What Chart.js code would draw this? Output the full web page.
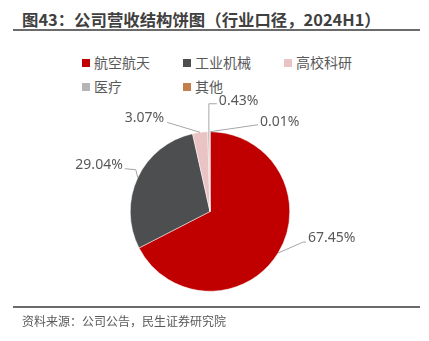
<!DOCTYPE html>
<html>
<head>
<meta charset="utf-8">
<script src="https://cdn.jsdelivr.net/npm/chart.js@4"></script>
<style>
  body { margin: 0; background: #fff; font-family: "Noto Sans CJK SC", "Noto Sans", sans-serif; }
  #wrap { position: relative; width: 429px; height: 341px; overflow: hidden; }
  #title { position: absolute; left: 22px; top: 7px; font-size: 16.4px; font-weight: bold; color: #404040; white-space: nowrap; }
  .rule { position: absolute; left: 13px; width: 407px; height: 2px; background: #6b6b6b; }
  #legend { position: absolute; left: 82px; top: 52px; width: 320px; font-size: 14px; color: #595959; }
  .item { position: absolute; white-space: nowrap; line-height: 20px; }
  .item i { display: inline-block; width: 8px; height: 8px; margin-right: 4px; vertical-align: 1px; }
  #source { position: absolute; left: 22px; top: 312px; font-size: 12px; color: #595959; white-space: nowrap; }
  canvas { position: absolute; left: 0; top: 0; }
</style>
</head>
<body>
<div id="wrap">
  <div id="title">图43：公司营收结构饼图（行业口径，2024H1）</div>
  <div class="rule" style="top:29px"></div>
  <div id="legend"></div>
  <canvas id="pieChart" width="429" height="341"></canvas>
  <div class="rule" style="top:306px"></div>
  <div id="source">资料来源：公司公告，民生证券研究院</div>
</div>
<script>
// segments and shares (%)
let sectors = ['航空航天', '工业机械', '高校科研', '医疗', '其他'];
let shares = [67.45, 29.04, 3.07, 0.43, 0.01];
let colors = ['#C00000', '#4D4E50', '#EAC4C4', '#B5B5B5', '#C27E4C'];

// legend grid (3 per row)
let legend = document.getElementById('legend');
sectors.forEach((name, i) => {
	let el = document.createElement('div');
	el.className = 'item';
	el.style.left = (i % 3) * 101 + 'px';
	el.style.top = Math.floor(i / 3) * 24 + 'px';
	el.innerHTML = '<i style="background:' + colors[i] + '"></i>' + name;
	legend.appendChild(el);
});

// leader line points (relative to slice edge) + label anchor
let labelLayout = [
	{ line: [[0, 0], [25, -11], [28, -11]], text: [30, -15], align: 'left' },
	{ line: [[0, 0], [-2, -8], [-13, -9]], text: [-15, -13], align: 'right' },
	{ line: [[0, 0], [-33, -10]], text: [-36, -14], align: 'right' },
	{ line: [[0, 0], [0, -28], [8, -28]], text: [10, -31], align: 'left' },
	{ line: [[0, 0], [48, -7]], text: [50, -10], align: 'left' }
];

let leaderLabels = {
	id: 'leaderLabels',
	afterDatasetsDraw(chart) {
		let ctx = chart.ctx;
		let arcs = chart.getDatasetMeta(0).data;
		ctx.save();
		ctx.font = '14px "Noto Sans", "DejaVu Sans", sans-serif';
		ctx.textBaseline = 'middle';
		arcs.forEach((arc, i) => {
			let p = arc.getProps(['x', 'y', 'startAngle', 'endAngle', 'outerRadius'], true);
			let mid = (p.startAngle + p.endAngle) / 2;
			let ex = p.x + Math.cos(mid) * p.outerRadius;
			let ey = p.y + Math.sin(mid) * p.outerRadius;
			let lay = labelLayout[i];
			ctx.strokeStyle = '#A6A6A6';
			ctx.lineWidth = 1;
			ctx.beginPath();
			lay.line.forEach((pt, k) => {
				if (k == 0) ctx.moveTo(ex + pt[0], ey + pt[1]);
				else ctx.lineTo(ex + pt[0], ey + pt[1]);
			});
			ctx.stroke();
			ctx.fillStyle = '#595959';
			ctx.textAlign = lay.align;
			ctx.fillText(shares[i].toFixed(2) + '%', ex + lay.text[0], ey + lay.text[1]);
		});
		ctx.restore();
	}
};

let pieChart = new Chart(document.getElementById('pieChart').getContext('2d'), {
	type: 'pie',
	data: {
		labels: sectors,
		datasets: [{
			data: shares,
			backgroundColor: colors,
			borderColor: '#ffffff',
			borderWidth: 0.5
		}]
	},
	options: {
		responsive: false,
		animation: false,
		layout: { padding: { top: 131, bottom: 49, left: 130, right: 139 } },
		plugins: {
			legend: { display: false },
			tooltip: { enabled: false }
		}
	},
	plugins: [leaderLabels]
});
</script>
</body>
</html>
